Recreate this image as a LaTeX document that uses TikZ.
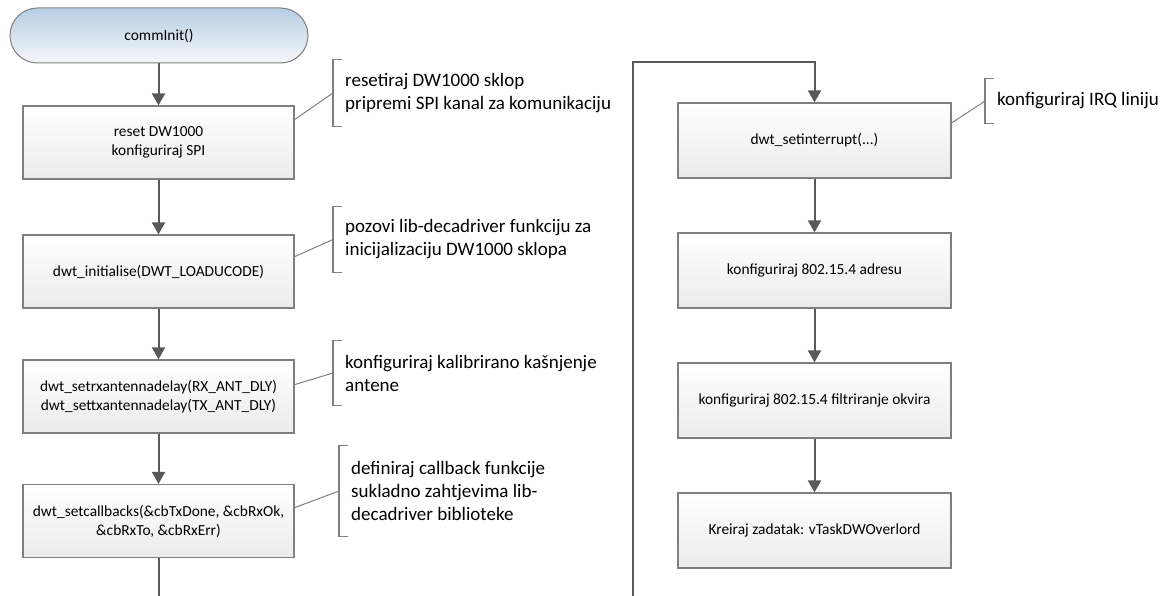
\documentclass[tikz,border=0pt]{standalone}
\usepackage{fontspec}
\setmainfont{Carlito}
\usetikzlibrary{arrows.meta,calc}
\definecolor{linegray}{HTML}{595959}
\definecolor{boxborder}{HTML}{7F7F7F}
\definecolor{termtop}{HTML}{B8CEE3}
\definecolor{termbot}{HTML}{F4F7FA}
\definecolor{boxbot}{HTML}{EBEBEB}
\tikzset{
 flowbox/.style={draw=boxborder, line width=1.2pt, top color=white, bottom color=boxbot, minimum height=73pt, align=center, font=\fontsize{15.4}{19}\selectfont, inner sep=0pt},
 leftbox/.style={flowbox, minimum width=271pt},
 rightbox/.style={flowbox, minimum width=273pt, minimum height=75pt},
 termbox/.style={draw=boxborder, line width=1pt, top color=termtop, bottom color=termbot, rounded corners=27.5pt, minimum width=298pt, minimum height=55pt, font=\fontsize{15.4}{19}\selectfont},
 flow/.style={draw=linegray, line width=2pt, -{Triangle[width=13pt,length=12pt]}},
 flowline/.style={draw=linegray, line width=2pt},
 note/.style={anchor=west, align=left, inner xsep=12pt, inner ysep=0pt, font=\fontsize{19}{23}\selectfont},
 bracketline/.style={draw=boxborder, line width=1.2pt},
 noteline/.style={draw=boxborder, line width=1pt},
}
\begin{document}
\begin{tikzpicture}[x=1pt,y=-1pt]
\useasboundingbox (0,0) rectangle (1166,596);
% left column
\node[termbox] (t0) at (159,35.5) {commInit()};
\node[leftbox] (b1) at (158.5,142.5) {reset DW1000\\konfiguriraj SPI};
\node[leftbox] (b2) at (158.5,271.5) {dwt\_initialise(DWT\_LOADUCODE)};
\node[leftbox] (b3) at (158.5,396.5) {dwt\_setrxantennadelay(RX\_ANT\_DLY)\\dwt\_settxantennadelay(TX\_ANT\_DLY)};
\node[leftbox] (b4) at (158.5,521) {dwt\_setcallbacks(\&cbTxDone, \&cbRxOk,\\\&cbRxTo, \&cbRxErr)};
% right column
\node[rightbox] (b5) at (814.5,140.5) {dwt\_setinterrupt(...)};
\node[rightbox] (b6) at (814.5,270.5) {konfiguriraj 802.15.4 adresu};
\node[rightbox] (b7) at (814.5,400.5) {konfiguriraj 802.15.4 filtriranje okvira};
\node[rightbox] (b8) at (814.5,530.5) {Kreiraj zadatak: vTaskDWOverlord};
% flow
\draw[flow] (t0.south -| b1.north) -- (b1.north);
\draw[flow] (b1) -- (b2);
\draw[flow] (b2) -- (b3);
\draw[flow] (b3) -- (b4);
\coordinate (e1) at (158.5,596);
\draw[flowline] (b4.south) -- (e1);
\coordinate (s2) at (633,596);
\coordinate (c1) at (633,62);
\draw[flow] (s2) -- (c1) -| (b5.north);
\draw[flow] (b5) -- (b6);
\draw[flow] (b6) -- (b7);
\draw[flow] (b7) -- (b8);
% annotations
\node[note, minimum height=66pt] (n1) at (333,93) {resetiraj DW1000 sklop\\pripremi SPI kanal za komunikaciju};
\node[note, minimum height=65pt] (n2) at (333,239.5) {pozovi lib-decadriver funkciju za\\inicijalizaciju DW1000 sklopa};
\node[note, minimum height=64pt] (n3) at (333,373) {konfiguriraj kalibrirano kašnjenje\\antene};
\node[note, minimum height=90pt] (n4) at (339,491) {definiraj callback funkcije\\sukladno zahtjevima lib-\\decadriver biblioteke};
\node[note, minimum height=44pt] (n5) at (985,101) {konfiguriraj IRQ liniju};
\foreach \n in {n1,n2,n3,n4,n5}{
  \draw[bracketline] ($(\n.north west)+(9,0)$) -- (\n.north west) -- (\n.south west) -- ++(9,0);
}
\draw[noteline] ($(b1.north east)!0.19!(b1.south east)$) -- (n1.west);
\draw[noteline] ($(b2.north east)!0.30!(b2.south east)$) -- (n2.west);
\draw[noteline] ($(b3.north east)!0.34!(b3.south east)$) -- (n3.west);
\draw[noteline] ($(b4.north east)!0.32!(b4.south east)$) -- (n4.west);
\draw[noteline] ($(b5.north east)!0.27!(b5.south east)$) -- (n5.west);
\end{tikzpicture}
\end{document}
